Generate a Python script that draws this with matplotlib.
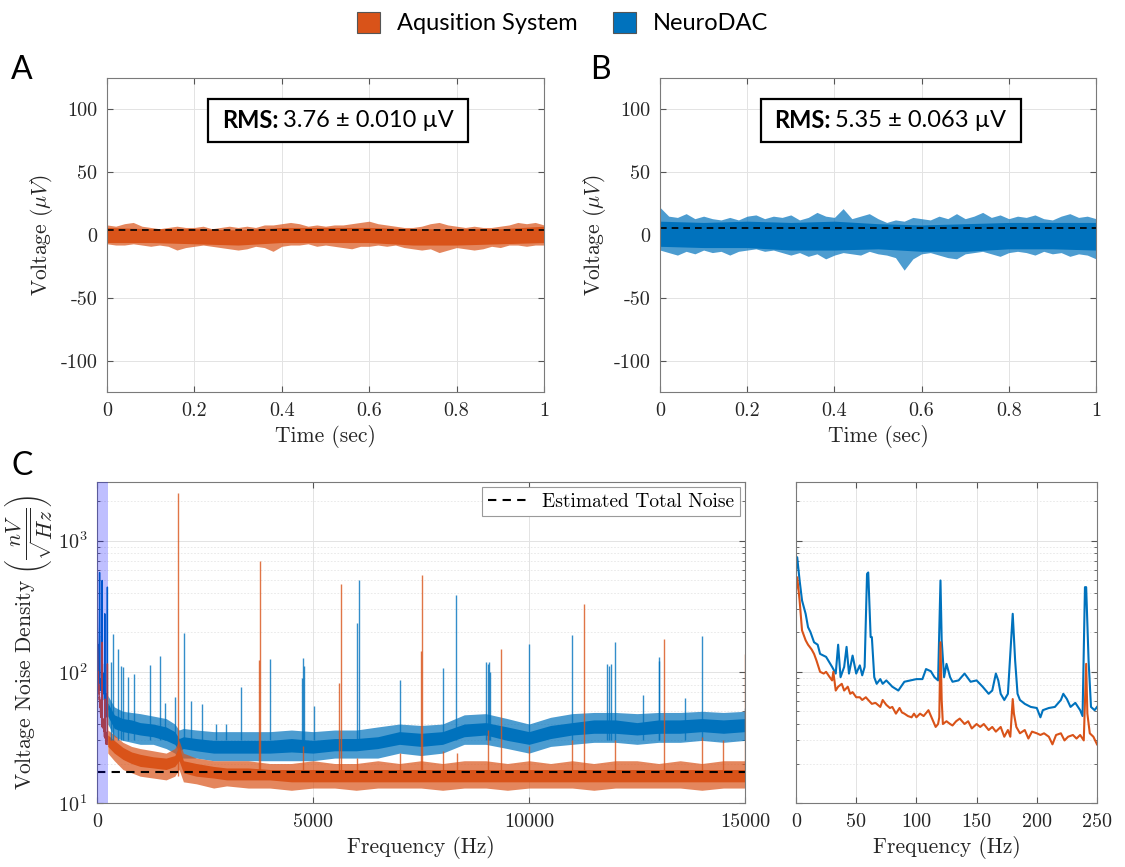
"""
Noise comparison figure: acquisition system vs NeuroDAC.

Panels A/B show one second of recorded noise (drawn as envelopes read off
the original figure), panel C shows the voltage noise density with a
zoom on the 0-250 Hz band.
"""

import matplotlib.pyplot as plt
from matplotlib.patches import Patch, Rectangle

ORANGE = "#D95319"
BLUE = "#0072BD"

# ---------------- time domain (uV) ----------------
rms_acq = 3.76
rms_dac = 5.35

t_env = [0.00, 0.02, 0.04, 0.06, 0.08, 0.10, 0.12, 0.14, 0.16, 0.18,
         0.20, 0.22, 0.24, 0.26, 0.28, 0.30, 0.32, 0.34, 0.36, 0.38,
         0.40, 0.42, 0.44, 0.46, 0.48, 0.50, 0.52, 0.54, 0.56, 0.58,
         0.60, 0.62, 0.64, 0.66, 0.68, 0.70, 0.72, 0.74, 0.76, 0.78,
         0.80, 0.82, 0.84, 0.86, 0.88, 0.90, 0.92, 0.94, 0.96, 0.98, 1.00]
t_core = [0.0, 0.1, 0.2, 0.3, 0.4, 0.5, 0.6, 0.7, 0.8, 0.9, 1.0]

acq_hi = [8, 7, 9, 10, 7, 6, 5, 6, 7, 6, 6, 7, 5, 6, 7, 6, 7, 6, 8, 8,
          9, 10, 9, 7, 8, 7, 8, 8, 9, 10, 11, 9, 8, 7, 6, 6, 7, 9, 10, 8,
          7, 6, 7, 6, 6, 7, 8, 10, 9, 10, 8]
acq_lo = [-7, -8, -8, -7, -8, -9, -8, -9, -12, -10, -9, -8, -9, -10, -11,
          -12, -11, -9, -10, -13, -9, -8, -8, -7, -9, -8, -9, -10, -11, -9,
          -9, -8, -9, -8, -10, -11, -12, -11, -14, -12, -10, -11, -12, -11,
          -9, -10, -8, -8, -9, -8, -8]
acq_core_hi = [6, 5, 5, 4, 6, 6, 6, 5, 5, 5, 7]
acq_core_lo = [-6, -6, -7, -8, -6, -6, -6, -8, -8, -7, -6]

dac_hi = [22, 15, 14, 17, 13, 15, 13, 12, 14, 12, 15, 16, 13, 15, 14, 16,
          12, 14, 18, 15, 14, 21, 13, 15, 17, 13, 10, 12, 11, 14, 13, 12,
          15, 13, 17, 13, 15, 18, 14, 16, 13, 15, 14, 16, 13, 12, 15, 17,
          14, 15, 13]
dac_lo = [-12, -14, -16, -13, -15, -12, -14, -13, -16, -13, -12, -11, -13,
          -12, -14, -16, -14, -17, -15, -19, -16, -14, -15, -16, -13, -15,
          -16, -18, -28, -19, -15, -14, -16, -18, -19, -15, -14, -13, -15,
          -17, -14, -13, -14, -16, -13, -15, -14, -17, -15, -16, -19]
dac_core_hi = [11, 10, 11, 10, 11, 9, 8, 9, 10, 10, 10]
dac_core_lo = [-9, -10, -10, -12, -12, -11, -13, -13, -11, -11, -12]

# ---------------- noise density (nV/sqrt(Hz)) ----------------
est_noise = 17.3

f_band = [250, 400, 600, 800, 1000, 1300, 1600, 1800, 1900, 2000, 2300,
          2700, 3000, 3500, 4000, 4500, 5000, 5500, 6000, 6500, 7000, 7500,
          8000, 8500, 9000, 9500, 10000, 10500, 11000, 11500, 12000, 12500,
          13000, 13500, 14000, 14500, 15000]

acq_band_hi = [36, 33, 29, 27, 26, 25, 24, 26, 30, 24, 22, 21, 21, 21, 20,
               20, 21, 20, 20, 21, 20, 21, 20, 21, 21, 20, 21, 20, 21, 20,
               21, 21, 20, 21, 20, 21, 21]
acq_band_lo = [24, 21, 18, 17, 16, 15.5, 15, 16, 18, 14.5, 14, 13, 13.5, 13,
               13, 12.5, 13, 13, 12.5, 13, 13, 13, 12.5, 13, 13, 12.5, 13, 13,
               13, 12.5, 13, 13, 13, 13, 12.5, 13, 13]
acq_core_band_hi = [33, 30, 26.5, 24.5, 23.5, 22.5, 22, 23, 27, 21, 20, 19,
                    18.5, 18.5, 18, 18, 18, 18, 18, 18, 18, 18, 18, 18, 18,
                    18, 18, 18, 18, 18, 18, 18, 18, 18, 18, 18, 18]
acq_core_band_lo = [27, 24, 21.5, 20, 19, 18.5, 18, 19, 21, 17, 16, 15.5, 15,
                    15, 15, 14.5, 14.5, 14.5, 14.5, 14.5, 14.5, 14.5, 14.5,
                    14.5, 14.5, 14.5, 14.5, 14.5, 14.5, 14.5, 14.5, 14.5,
                    14.5, 14.5, 14.5, 14.5, 14.5]

dac_band_hi = [66, 54, 50, 49, 48, 46, 44, 40, 36, 37, 36, 35, 35, 35, 35,
               36, 35, 36, 36, 38, 40, 39, 40, 47, 48, 44, 40, 45, 48, 49,
               49, 48, 49, 49, 50, 49, 50]
dac_band_lo = [40, 32, 30, 29, 28, 28, 26, 24, 22, 22, 22, 21, 21, 21, 21,
               21, 21, 22, 22, 22, 24, 23, 24, 28, 28, 26, 24, 27, 28, 29,
               29, 28, 29, 29, 30, 29, 30]
dac_core_band_hi = [58, 47, 44, 43, 41, 40, 38, 35, 31, 32, 31, 30, 30, 30,
                    30, 31, 30, 31, 31, 32, 35, 34, 35, 40, 41, 38, 35, 39,
                    41, 43, 43, 41, 43, 43, 44, 43, 44]
dac_core_band_lo = [46, 37, 35, 34, 33, 32, 30, 28, 25, 26, 25, 24, 24, 24,
                    24, 24.5, 24, 25, 25, 26, 28, 27, 28, 32, 33, 30, 28, 31,
                    33, 34, 34, 33, 34, 34, 35, 34, 35]

acq_spike_f = [1877, 3740, 3772, 5608, 5641, 7502, 7527, 9057, 9355, 10000,
               11006, 11268, 11987, 13122, 13997, 14497, 15000, 4770, 6030,
               7015, 8015, 8330]
acq_spike_v = [2300, 124, 705, 82, 469, 144, 548, 36, 148, 27, 30, 330, 30,
               179, 32, 30, 137, 27, 22, 24, 25, 24]

dac_spike_f = [314, 372, 496, 554, 612, 720, 852, 1216, 1456, 1580, 1811,
               2010, 2167, 2432, 2763, 2994, 3342, 4011, 4740, 4772, 4800,
               5012, 6013, 6063, 7014, 8015, 8321, 9007, 9040, 9075, 9107,
               10000, 11006, 11804, 11850, 11900, 11987, 12650, 13000, 13014,
               13600, 14000, 15000]
dac_spike_v = [119, 193, 150, 110, 108, 91, 97, 112, 133, 58, 64, 199, 60,
               57, 40, 40, 77, 126, 90, 128, 110, 55, 235, 497, 86, 107, 386,
               119, 115, 119, 100, 164, 190, 115, 110, 115, 169, 66, 120, 130,
               63, 186, 53]

# 0-250 Hz detail
f_zoom_dac = [0, 1, 3, 5, 8, 10, 12, 15, 18, 20, 25, 30, 33, 35, 37, 40, 42,
              44, 47, 50, 53, 55, 57, 59, 60, 62, 63, 65, 67, 70, 72, 75, 80,
              85, 90, 95, 100, 105, 108, 112, 115, 118, 120, 121, 123, 125,
              128, 130, 135, 140, 145, 150, 155, 160, 163, 166, 168, 170, 173,
              176, 179, 180, 182, 184, 186, 190, 195, 200, 203, 205, 210, 215,
              220, 222, 225, 228, 232, 236, 238, 240, 241, 243, 245, 248, 250]
zoom_dac = [591, 747, 497, 350, 277, 219, 201, 168, 161, 137, 130, 109, 97,
            161, 91, 109, 155, 97, 133, 97, 112, 94, 109, 558, 572, 184, 184,
            91, 81, 88, 81, 86, 77, 72, 84, 86, 88, 88, 105, 101, 91, 86, 497,
            174, 91, 115, 91, 84, 86, 97, 84, 86, 77, 68, 72, 97, 86, 68, 61,
            68, 195, 277, 122, 68, 61, 57, 54, 53, 45, 51, 53, 54, 61, 68, 62,
            54, 58, 51, 46, 442, 442, 122, 54, 51, 54]

f_zoom_acq = [0, 1, 3, 5, 8, 10, 13, 15, 17, 20, 23, 25, 28, 30, 31, 33, 35,
              38, 40, 43, 45, 47, 50, 53, 55, 58, 60, 63, 66, 70, 72, 75, 78,
              80, 83, 86, 88, 90, 93, 96, 98, 100, 103, 106, 110, 113, 116,
              118, 119, 120, 121, 122, 125, 128, 130, 133, 136, 140, 143, 146,
              150, 153, 156, 160, 163, 166, 170, 173, 176, 178, 180, 181, 183,
              186, 190, 193, 196, 200, 203, 206, 210, 213, 216, 220, 223, 226,
              230, 233, 236, 239, 241, 242, 244, 247, 250]
zoom_acq = [417, 526, 350, 207, 174, 161, 148, 137, 122, 100, 97, 100, 91, 86,
            100, 72, 77, 81, 72, 77, 68, 70, 64, 64, 61, 64, 61, 57, 58, 54,
            61, 56, 53, 54, 48, 53, 49, 48, 46, 45, 48, 45, 48, 46, 51, 44, 38,
            40, 45, 168, 61, 40, 42, 40, 39, 42, 44, 40, 42, 37, 40, 38, 40,
            36, 38, 35, 38, 32, 36, 32, 62, 48, 38, 34, 36, 31, 35, 34, 33, 34,
            32, 28, 33, 34, 30, 32, 33, 31, 33, 30, 115, 48, 34, 32, 28]

W, H = 1125, 867
SERIF = "cmr10"
SANS = "Lato"
TXT = "#262626"


def add_axes_px(fig, left, right, top, bottom):
    """Add axes given pixel edges of the 1125x867 canvas."""
    return fig.add_axes([left / W, 1 - bottom / H, (right - left) / W, (bottom - top) / H])


def style_axes(ax):
    for sp in ax.spines.values():
        sp.set_color("#7a7a7a")
        sp.set_linewidth(0.8)
    ax.tick_params(which="both", direction="in", top=True, right=True,
                   color="#555555", labelsize=14.5, labelcolor=TXT, pad=7)
    ax.tick_params(which="major", length=4)
    ax.tick_params(which="minor", length=2)
    ax.grid(True, which="major", color="#e3e3e3", lw=0.7)
    ax.set_axisbelow(True)


def time_panel(ax, hi, lo, core_hi, core_lo, rms, color, rms_text):
    ax.fill_between(t_env, lo, hi, color=color, alpha=0.7, lw=0)
    ax.fill_between(t_core, core_lo, core_hi, color=color, lw=0)
    ax.axhline(rms, color="black", ls="--", lw=1.2, dashes=(4, 3))
    ax.set_xlim(0, 1)
    ax.set_ylim(-125, 125)
    ax.set_xticks([0, 0.2, 0.4, 0.6, 0.8, 1])
    ax.set_xticklabels(["0", "0.2", "0.4", "0.6", "0.8", "1"])
    ax.set_yticks([-100, -50, 0, 50, 100])
    ax.set_yticklabels(["-100", "-50", "0", "50", "100"])
    style_axes(ax)
    ax.set_xlabel("Time (sec)", fontsize=15.5, color=TXT)
    ax.set_ylabel(r"Voltage $(\mu V)$", fontsize=15.5, color=TXT)

    # RMS box
    ax.add_patch(Rectangle((0.232, 0.796), 0.595, 0.137, transform=ax.transAxes,
                           facecolor="white", edgecolor="black", lw=1.6, zorder=5))
    ax.text(0.392, 0.864, "RMS:", transform=ax.transAxes, ha="right", va="center",
            fontsize=17, fontweight="bold", family=SANS, zorder=6)
    ax.text(0.402, 0.864, rms_text, transform=ax.transAxes, ha="left", va="center",
            fontsize=17, family=SANS, zorder=6)


def spectrum_panel(ax):
    ax.fill_between(f_band, dac_band_lo, dac_band_hi, color=BLUE, alpha=0.7, lw=0)
    ax.fill_between(f_band, dac_core_band_lo, dac_core_band_hi, color=BLUE, lw=0)
    ax.vlines(dac_spike_f, 30, dac_spike_v, color=BLUE, lw=1.0, alpha=0.8)
    ax.plot(f_zoom_dac, zoom_dac, color=BLUE, lw=1.0)

    ax.fill_between(f_band, acq_band_lo, acq_band_hi, color=ORANGE, alpha=0.7, lw=0)
    ax.fill_between(f_band, acq_core_band_lo, acq_core_band_hi, color=ORANGE, lw=0)
    ax.vlines(acq_spike_f, 16, acq_spike_v, color=ORANGE, lw=1.0, alpha=0.8)
    ax.plot(f_zoom_acq, zoom_acq, color=ORANGE, lw=1.0)

    ax.plot([0, 15000], [est_noise, est_noise], color="black", ls="--", lw=1.5,
            dashes=(4, 3), label="Estimated Total Noise")
    ax.axvspan(0, 250, color="blue", alpha=0.25, lw=0, zorder=3)

    ax.set_yscale("log")
    ax.set_ylim(10, 2800)
    ax.set_xlim(0, 15000)
    ax.set_xticks([0, 5000, 10000, 15000])
    ax.set_xticklabels(["0", "5000", "10000", "15000"])
    style_axes(ax)
    ax.grid(True, which="minor", axis="y", color="#e6e6e6", lw=0.6, ls=(0, (2, 2)))
    ax.set_xlabel("Frequency (Hz)", fontsize=15.5, color=TXT)
    ax.set_ylabel(r"Voltage Noise Density $\left(\dfrac{nV}{\sqrt{Hz}}\right)$",
                  fontsize=15.5, color=TXT, labelpad=2)
    leg = ax.legend(loc="upper right", fontsize=14, fancybox=False, framealpha=1,
                    edgecolor="#9a9a9a", handlelength=2.0, borderaxespad=0.25,
                    borderpad=0.3)
    leg.get_frame().set_linewidth(0.8)


def zoom_panel(ax):
    ax.plot(f_zoom_dac, zoom_dac, color=BLUE, lw=1.5)
    ax.plot(f_zoom_acq, zoom_acq, color=ORANGE, lw=1.5)
    ax.set_yscale("log")
    ax.set_ylim(10, 2800)
    ax.set_xlim(0, 250)
    ax.set_xticks([0, 50, 100, 150, 200, 250])
    style_axes(ax)
    ax.grid(True, which="minor", axis="y", color="#e6e6e6", lw=0.6, ls=(0, (2, 2)))
    ax.tick_params(labelleft=False)
    ax.set_xlabel("Frequency (Hz)", fontsize=15.5, color=TXT)


def main():
    plt.rcParams["font.family"] = SERIF
    plt.rcParams["mathtext.fontset"] = "cm"
    plt.rcParams["axes.unicode_minus"] = False

    fig = plt.figure(figsize=(W / 100, H / 100), dpi=100)

    ax_a = add_axes_px(fig, 107, 544, 78, 392)
    ax_b = add_axes_px(fig, 660, 1096, 78, 392)
    ax_c = add_axes_px(fig, 97, 745, 482, 803)
    ax_d = add_axes_px(fig, 796, 1097, 482, 803)

    time_panel(ax_a, acq_hi, acq_lo, acq_core_hi, acq_core_lo, rms_acq, ORANGE,
               "3.76 \u00b1 0.010 \u00b5V")
    time_panel(ax_b, dac_hi, dac_lo, dac_core_hi, dac_core_lo, rms_dac, BLUE,
               "5.35 \u00b1 0.063 \u00b5V")
    spectrum_panel(ax_c)
    zoom_panel(ax_d)

    # panel letters
    fig.text(22 / W, 1 - 70 / H, "A", fontsize=23, family=SANS, ha="center", va="center")
    fig.text(600 / W, 1 - 70 / H, "B", fontsize=23, family=SANS, ha="center", va="center")
    fig.text(22 / W, 1 - 466 / H, "C", fontsize=23, family=SANS, ha="center", va="center")

    handles = [Patch(facecolor=ORANGE, edgecolor="#555555", lw=0.8, label="Aqusition System"),
               Patch(facecolor=BLUE, edgecolor="#555555", lw=0.8, label="NeuroDAC")]
    fig.legend(handles=handles, loc="center", bbox_to_anchor=(0.5, 1 - 23 / H), ncol=2,
               frameon=False, prop={"family": SANS, "size": 17}, handlelength=1.0,
               handleheight=1.0, handletextpad=0.7, columnspacing=1.5)

    fig.savefig("out.png", dpi=100)


if __name__ == "__main__":
    main()
